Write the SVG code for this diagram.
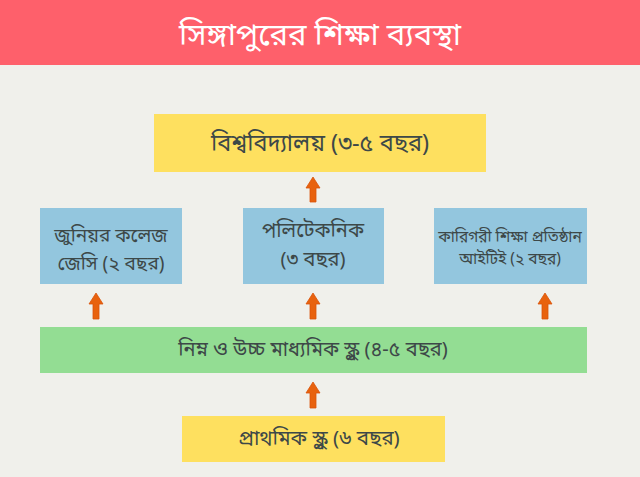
<svg xmlns="http://www.w3.org/2000/svg" width="640" height="477" viewBox="0 0 640 477">
<style>
text{font-family:"Noto Sans Bengali","Noto Sans","Liberation Sans",sans-serif;text-anchor:middle;fill:#3d4848}
.yel{fill:#fee05f}
.blue{fill:#93c6de}
.green{fill:#93dd93}
.arr{fill:#e8620e;stroke:#d9540a;stroke-width:0.8}
</style>
<rect x="0" y="0" width="640" height="477" fill="#f0f0eb"/>
<g id="header">
<rect x="0" y="0" width="640" height="65" fill="#fe606b"/>
<text x="320" y="45" font-size="31" style="fill:#ffffff">সিঙ্গাপুরের শিক্ষা ব্যবস্থা</text>
</g>
<g id="university">
<rect class="yel" x="154" y="114" width="332" height="58"/>
<text x="320" y="151" font-size="23.5">বিশ্ববিদ্যালয় (৩-৫ বছর)</text>
</g>
<g id="junior-college">
<rect class="blue" x="40" y="208" width="142" height="76"/>
<text x="111" y="242" font-size="19">জুনিয়র কলেজ</text>
<text x="111" y="270" font-size="19">জেসি (২ বছর)</text>
</g>
<g id="polytechnic">
<rect class="blue" x="243" y="208" width="141" height="76"/>
<text x="313" y="237" font-size="20">পলিটেকনিক</text>
<text x="313" y="266" font-size="20">(৩ বছর)</text>
</g>
<g id="ite">
<rect class="blue" x="434" y="208" width="153" height="76"/>
<text x="510" y="242" font-size="15.5">কারিগরী শিক্ষা প্রতিষ্ঠান</text>
<text x="510" y="264" font-size="15.5">আইটিই (২ বছর)</text>
</g>
<g id="secondary">
<rect class="green" x="40" y="327" width="547" height="46"/>
<text x="313" y="356" font-size="20">নিম্ন ও উচ্চ মাধ্যমিক স্কুল (৪-৫ বছর)</text>
</g>
<g id="primary">
<rect class="yel" x="182" y="416" width="263" height="46"/>
<text x="319" y="445" font-size="20.5">প্রাথমিক স্কুল (৬ বছর)</text>
</g>
<g id="connectors">
<polygon class="arr" points="313,177 320,188 316,188 316,202 310,202 310,188 306,188"/>
<polygon class="arr" points="96,293 103,304 99,304 99,319 93,319 93,304 89,304"/>
<polygon class="arr" points="313,293 320,304 316,304 316,319 310,319 310,304 306,304"/>
<polygon class="arr" points="545,293 552,304 548,304 548,319 542,319 542,304 538,304"/>
<polygon class="arr" points="313,382 320,393 316,393 316,408 310,408 310,393 306,393"/>
</g>
</svg>
